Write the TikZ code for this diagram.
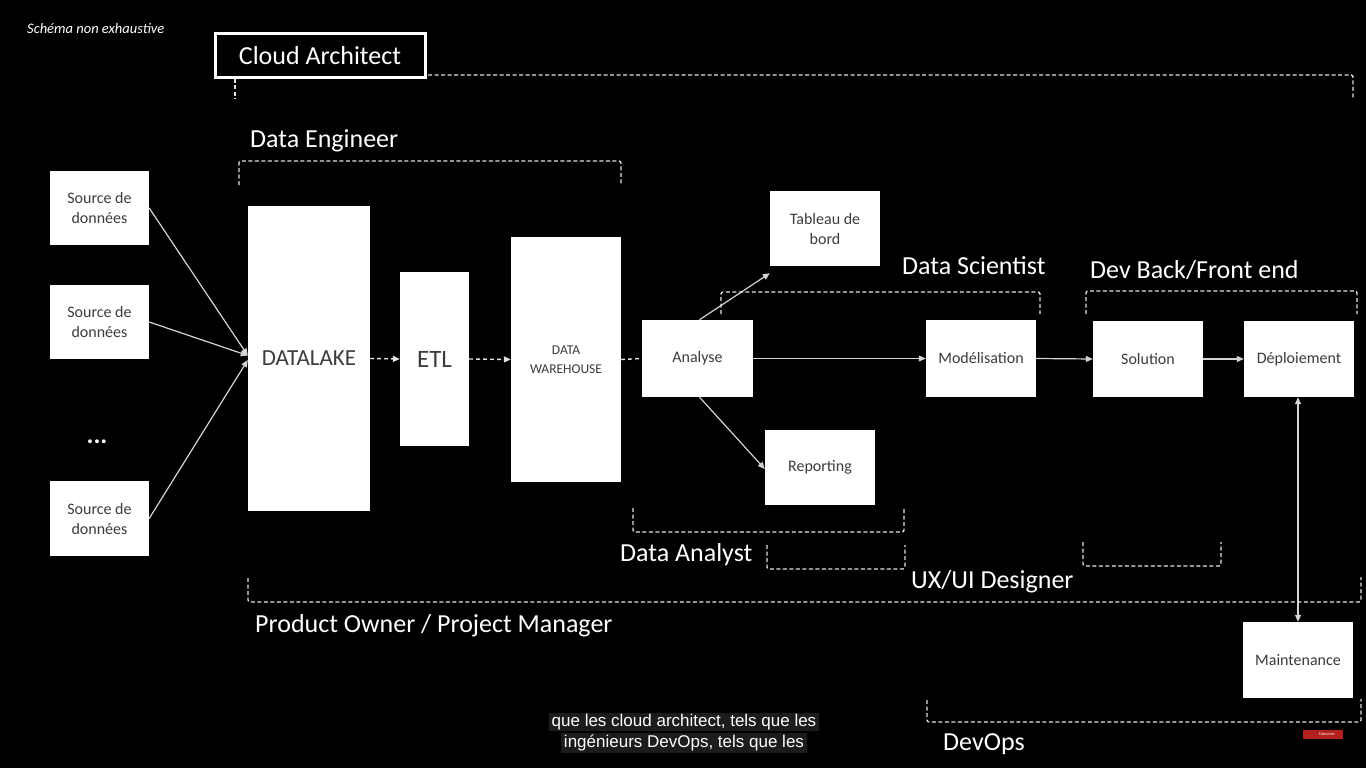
\documentclass[tikz,border=0pt]{standalone}
\usepackage{fontspec}
\setmainfont{Carlito}
\newfontfamily\subfont{Liberation Sans}
\usetikzlibrary{arrows.meta}
\definecolor{boxtext}{HTML}{3C3C3C}
\definecolor{linegray}{HTML}{D4D4D4}
\definecolor{dashgray}{HTML}{E2E2E2}
\definecolor{subbg}{HTML}{1C1C1C}
\definecolor{ytred}{HTML}{B3201E}
\begin{document}
\begin{tikzpicture}[x=1pt,y=-1pt,
  box/.style={fill=white,draw=none,text=boxtext,align=center,inner sep=0pt,font=\fontsize{16}{20}\selectfont},
  role/.style={text=white,inner sep=0pt,anchor=west,font=\fontsize{26}{30}\selectfont},
  conn/.style={draw=linegray,line width=1.2pt,-{Triangle[length=7pt,width=6pt]}},
  dconn/.style={draw=dashgray,line width=1.4pt,dash pattern=on 4pt off 3pt},
  bracket/.style={draw=dashgray,line width=1.3pt,dash pattern=on 4pt off 2.5pt,rounded corners=2pt},
  subline/.style={fill=subbg,text=white,inner xsep=3pt,inner ysep=1.5pt,font=\subfont\fontsize{17}{19}\selectfont}
]
\useasboundingbox[fill=black] (0,0) rectangle (1366,768);

% header
\node[text=white,inner sep=0pt,anchor=west,font=\itshape\fontsize{14.5}{16}\selectfont] (schema) at (27,29) {Schéma non exhaustive};

% Cloud Architect
\node[draw=white,line width=3pt,text=white,minimum width=210pt,minimum height=44pt,inner sep=0pt,font=\fontsize{26}{30}\selectfont] (ca) at (320,55.5) {Cloud Architect};
\draw[bracket] (428,75) -- (1353,75) -- (1353,99);
\draw[bracket] (235,79) -- (235,99);

% Data Engineer
\node[role] (de) at (250,141) {Data Engineer};
\draw[bracket] (239,185) -- (239,161) -- (621,161) -- (621,185);

% sources
\node[box,minimum width=99pt,minimum height=74pt] (s1) at (99.5,208) {Source de\\données};
\node[box,minimum width=99pt,minimum height=74pt] (s2) at (99.5,322) {Source de\\données};
\node[text=white,inner sep=0pt,font=\bfseries\fontsize{26}{26}\selectfont] (dots) at (97,442) {...};
\node[box,minimum width=99pt,minimum height=75pt] (s3) at (99.5,518.5) {Source de\\données};

% pipeline
\node[box,minimum width=122pt,minimum height=305pt,font=\fontsize{23}{27}\selectfont] (dl) at (309,358.5) {DATALAKE};
\node[box,minimum width=69pt,minimum height=174pt,font=\fontsize{25}{29}\selectfont] (etl) at (434.5,359) {ETL};
\node[box,minimum width=110pt,minimum height=245pt,font=\fontsize{13.5}{19}\selectfont] (dw) at (566,359.5) {DATA\\WAREHOUSE};
\node[box,minimum width=111pt,minimum height=77pt] (an) at (697.5,358.5) {Analyse};
\node[box,minimum width=110pt,minimum height=75pt] (tb) at (825,228.5) {Tableau de\\bord};
\node[box,minimum width=110pt,minimum height=75pt] (rep) at (820,467.5) {Reporting};
\node[box,minimum width=110pt,minimum height=77pt] (mod) at (981,358.5) {Modélisation};
\node[box,minimum width=110pt,minimum height=76pt] (sol) at (1148,359) {Solution};
\node[box,minimum width=110pt,minimum height=76pt] (dep) at (1299,359) {Déploiement};
\node[box,minimum width=110pt,minimum height=76pt] (mai) at (1298,660) {Maintenance};

% connectors
\draw[conn] (s1.east) -- ([yshift=3pt]dl.west);
\draw[conn] (s2.east) -- ([yshift=3pt]dl.west);
\draw[conn] (s3.east) -- ([yshift=-1.5pt]dl.west);
\draw[dconn,-{Triangle[length=7pt,width=6pt]}] (dl.east) -- (etl.west);
\draw[dconn,-{Triangle[length=7pt,width=6pt]}] (etl.east) -- (dw.west);
\draw[dconn] (dw.east) -- (an.west);
\draw[conn] ([xshift=2pt]an.north) -- ([yshift=-7pt]tb.south west);
\draw[conn] ([xshift=2pt]an.south) -- ([yshift=-1.5pt]rep.west);
\draw[conn] (an.east) -- (mod.west);
\draw[conn] (mod.east) -- (sol.west);
\draw[conn] (sol.east) -- (dep.west);
\draw[conn,{Triangle[length=7pt,width=6pt]}-{Triangle[length=7pt,width=6pt]}] ([xshift=-1pt]dep.south) -- (mai.north);

% Data Scientist & Dev
\node[role] (ds) at (902,266) {Data Scientist};
\draw[bracket] (721,314) -- (721,292) -- (1040,292) -- (1040,314);
\node[role] (dev) at (1090,270) {Dev Back/Front end};
\draw[bracket] (1086,314) -- (1086,291) -- (1357,291) -- (1357,314);

% Data Analyst
\draw[bracket] (633,508) -- (633,532) -- (904,532) -- (904,508);
\node[role] (da) at (620,555) {Data Analyst};

% UX/UI
\draw[bracket] (767,545) -- (767,569) -- (905,569) -- (905,545);
\draw[bracket] (1083,542) -- (1083,566) -- (1221,566) -- (1221,542);
\node[role] (ux) at (911,582) {UX/UI Designer};

% Product Owner
\draw[bracket] (248,578) -- (248,602) -- (1361,602) -- (1361,577);
\node[role] (po) at (255,626) {Product Owner / Project Manager};

% DevOps
\draw[bracket] (927,700) -- (927,722) -- (1361,722) -- (1361,699);
\node[role] (devops) at (943,744) {DevOps};

% subtitles
\node[subline] (sub1) at (684,722) {que les cloud architect, tels que les};
\node[subline] (sub2) at (684,743) {ingénieurs DevOps, tels que les};

% subscribe button
\node[fill=ytred,text=white!80,minimum width=40pt,minimum height=9pt,inner sep=0pt,font=\fontsize{4}{4}\selectfont] (yt) at (1323,734) {\hspace*{8pt}S'abonner};
\end{tikzpicture}
\end{document}
